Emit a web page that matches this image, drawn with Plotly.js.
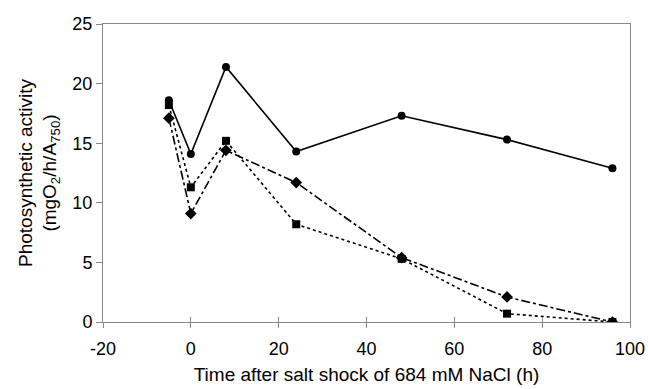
<!DOCTYPE html>
<html><head><meta charset="utf-8">
<script src="https://cdn.plot.ly/plotly-3.0.1.min.js"></script>
<style>html,body{margin:0;padding:0;background:#fff}</style>
</head><body>
<div id="chart" style="width:648px;height:389px"></div>
<script>
const timeH = [-5, 0, 8, 24, 48, 72, 96];
const circleSeries = [18.6, 14.1, 21.4, 14.3, 17.3, 15.3, 12.9];
const squareSeries = [18.2, 11.3, 15.2, 8.2, 5.3, 0.7, 0.0];
const diamondSeries = [17.1, 9.1, 14.4, 11.7, 5.4, 2.1, 0.0];
const xTicks = [-20, 0, 20, 40, 60, 80, 100];
const yTicks = [0, 5, 10, 15, 20, 25];

const traces = [
  {x: timeH, y: circleSeries, mode: 'lines+markers', name: 'circle',
   line: {color: '#000', width: 1.6, dash: 'solid'},
   marker: {symbol: 'circle', size: 8, color: '#000'}},
  {x: timeH, y: squareSeries, mode: 'lines+markers', name: 'square',
   line: {color: '#000', width: 1.6, dash: 'dot'},
   marker: {symbol: 'square', size: 8, color: '#000'}},
  {x: timeH, y: diamondSeries, mode: 'lines+markers', name: 'diamond',
   line: {color: '#000', width: 1.6, dash: 'dashdot'},
   marker: {symbol: 'diamond', size: 9, color: '#000'}},
  {x: [], y: [], xaxis: 'x2', yaxis: 'y', mode: 'markers', hoverinfo: 'skip'}
];

const layout = {
  width: 648, height: 389,
  margin: {l: 103, r: 18, t: 24, b: 67},
  paper_bgcolor: '#fff', plot_bgcolor: '#fff',
  showlegend: false,
  font: {family: 'Liberation Sans, Arial, sans-serif', size: 18, color: '#000'},
  xaxis: {
    range: [-20, 100], tickvals: xTicks, ticktext: xTicks.map(String),
    showgrid: false, zeroline: false, showline: true, linecolor: '#888', linewidth: 1,
    mirror: true, ticks: 'outside', ticklen: 5, tickcolor: '#888',
    tickfont: {size: 18}, ticklabelstandoff: 5,
    title: {text: 'Time after salt shock of 684 mM NaCl (h)', font: {size: 19}, standoff: 10}
  },
  xaxis2: {
    range: [-20, 100], tickvals: xTicks, overlaying: 'x', anchor: 'y',
    showgrid: false, zeroline: false, showline: false, showticklabels: false,
    ticks: 'inside', ticklen: 5, tickcolor: '#888'
  },
  yaxis: {
    range: [0, 25], tickvals: yTicks, ticktext: yTicks.map(String),
    showgrid: false, zeroline: false, showline: true, linecolor: '#888', linewidth: 1,
    mirror: true, ticks: 'outside', ticklen: 6, tickcolor: '#888',
    tickfont: {size: 18},
    title: {text: 'Photosynthetic activity<br>(mgO<sub>2</sub>/h/A<sub>750</sub>)', font: {size: 19}, standoff: 10}
  }
};
Plotly.newPlot('chart', traces, layout, {displayModeBar: false, staticPlot: true});
</script>
</body></html>
